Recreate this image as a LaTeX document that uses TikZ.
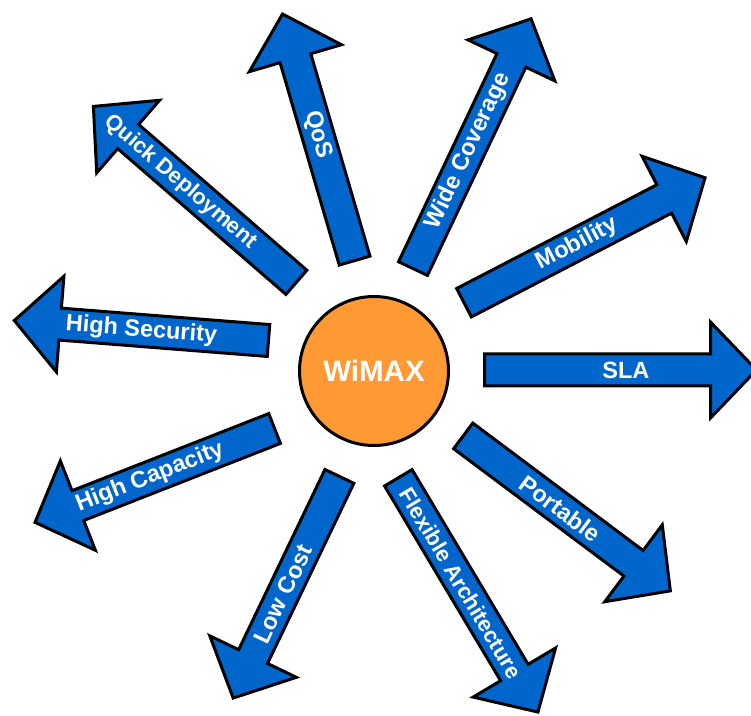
\documentclass[tikz,border=0pt]{standalone}
\usepackage{fontspec}
\setmainfont{Liberation Sans}
\definecolor{wblue}{RGB}{0,102,204}
\definecolor{worange}{RGB}{255,153,51}
\tikzset{
  arrowshape/.style={fill=wblue, draw=black, line width=3pt, line join=miter},
  arrowlabel/.style={text=white, font=\fontsize{23.5}{28}\selectfont\bfseries, inner sep=0pt},
  longlabel/.style={font=\fontsize{22}{26}\selectfont\bfseries},
  hub/.style={circle, fill=worange, draw=black, line width=3pt, minimum size=149pt, inner sep=0pt, text=white, font=\fontsize{29.5}{34}\selectfont\bfseries}
}
% #1 name, #2 x, #3 y, #4 angle, #5 length, #6 label, #7 text rotation, #8 text position fraction, #9 extra label style
\newcommand\bigarrow[9]{%
  \begin{scope}[shift={(#2,#3)}, rotate=#4]
    \draw[arrowshape] (0,16) -- ({#5-46},16) -- ({#5-46},48) -- (#5,0) -- ({#5-46},-48) -- ({#5-46},-16) -- (0,-16) -- cycle;
    \node[arrowlabel, rotate=#7, #9] (#1) at ({#5*#8},0) {#6};
  \end{scope}}
\begin{document}
\begin{tikzpicture}[x=1pt,y=1pt]
  \useasboundingbox (0,0) rectangle (751,715);
  \clip (0,0) rectangle (751,715);
  \bigarrow{sla}{484.5}{345}{0}{272}{SLA}{0}{0.52}{}
  \bigarrow{hsec}{268.5}{374.5}{175.5}{255}{High Security}{-4.5}{0.50}{}
  \bigarrow{qos}{354.6}{454.4}{106.3}{256.9}{QoS}{-73.7}{0.51}{}
  \bigarrow{wcov}{413}{446.4}{64.7}{276.3}{Wide Coverage}{64.7}{0.47}{}
  \bigarrow{mob}{464}{412.3}{27.4}{271.5}{Mobility}{27.4}{0.47}{}
  \bigarrow{qdep}{296.4}{432.7}{139.1}{268.6}{Quick Deployment}{-40.9}{0.57}{longlabel}
  \bigarrow{hcap}{274.6}{286.5}{201.4}{257.3}{High Capacity}{21.4}{0.52}{}
  \bigarrow{lcost}{339.4}{238.6}{244.4}{245.8}{Low Cost}{64.4}{0.53}{}
  \bigarrow{flex}{398.3}{237.2}{-59.2}{272.7}{Flexible Architecture}{-59.2}{0.45}{longlabel}
  \bigarrow{port}{463.2}{279.1}{-36.8}{258.7}{Portable}{-36.8}{0.47}{}
  \node[hub] (wimax) at (374,344) {WiMAX};
\end{tikzpicture}
\end{document}
